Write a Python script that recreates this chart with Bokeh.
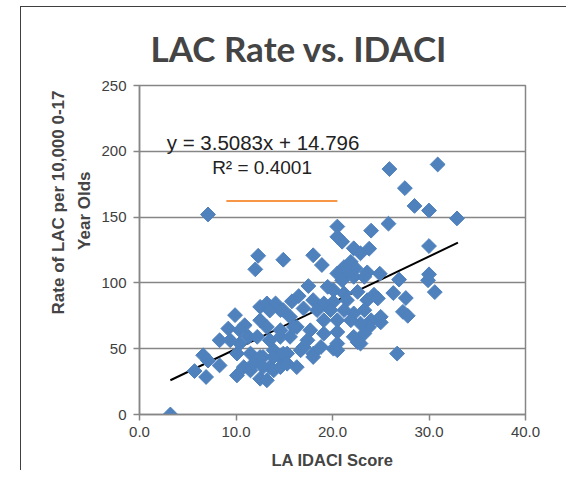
import math
from bokeh.plotting import figure
from bokeh.models import Range1d, FixedTicker, Label, Spacer, ColumnDataSource, Title
from bokeh.layouts import row, column
from bokeh.embed import file_html
from bokeh.resources import INLINE

# ---- data ----
idaci = [3.2, 7.1, 25.9, 30.9, 27.5, 28.5, 30.0, 32.9, 25.8, 24.0,
         30.0, 23.8, 20.5, 21.0, 30.0, 29.9, 30.6, 26.9, 26.3, 27.6,
         27.3, 27.8, 26.7, 24.9, 23.6, 24.3, 25.0, 24.0, 23.8, 22.6,
         22.2, 22.2, 22.9, 21.9, 22.4, 21.2, 22.2, 23.3, 20.1, 20.5,
         21.5, 21.0, 20.5, 18.0, 18.9, 17.5, 14.9, 12.3, 12.0, 20.1,
         21.2, 22.6, 18.0, 19.1, 20.1, 21.5, 23.6, 24.7, 17.0, 18.4,
         19.8, 21.2, 22.2, 23.3, 25.0, 22.9, 20.5, 21.9, 19.1, 15.6,
         14.9, 16.3, 17.7, 19.1, 20.5, 22.9, 17.4, 18.8, 20.5, 15.6,
         16.7, 18.0, 15.3, 14.6, 18.0, 16.3, 14.9, 13.5, 17.0, 13.9,
         12.8, 20.5, 5.7, 6.9, 6.6, 7.1, 8.3, 8.3, 9.9, 9.2,
         10.9, 11.3, 10.1, 10.1, 10.8, 11.5, 12.5, 13.2, 12.5, 13.2,
         14.1, 14.6, 12.5, 13.2, 12.2, 13.5, 14.6, 16.0, 11.5, 12.5,
         13.9, 14.9, 11.8, 12.8, 13.9, 14.6, 15.3, 10.4, 9.4, 10.4,
         13.5, 15.8, 16.5, 23.3, 19.5]
lac_rate = [0, 152, 186.5, 190, 172, 158.5, 155, 149, 145, 139.7,
            128, 126, 142.8, 131.3, 106.5, 102, 93, 102.5, 92.3, 88.5,
            78, 75, 46.3, 107, 108, 91, 70, 71.6, 66.5, 55,
            59, 126.3, 122.5, 116, 111, 112, 104.6, 104.6, 50, 107.2,
            107.2, 102, 135, 121, 113.6, 97.6, 117.6, 120.6, 110.3, 94.5,
            92, 93.2, 86.9, 84.4, 85.6, 86.9, 86.9, 88.2, 80.6, 79.3,
            79.3, 79.3, 76.8, 79.3, 74.2, 69.1, 71.6, 71.6, 71.6, 74.2,
            79.3, 66.5, 64, 61.5, 62.7, 53.9, 56.4, 51.3, 53.9, 59,
            48.8, 46.3, 46.3, 64, 43.7, 36, 41.2, 36, 51.3, 48.8,
            43.7, 48.8, 33, 28.5, 45, 41, 37.3, 56.4, 75.5, 65.3,
            67.8, 59, 46.3, 29.7, 36, 33.5, 27.2, 26, 81.8, 84.4,
            84.4, 79.3, 71.6, 66.5, 59, 56.4, 59, 66.5, 46.3, 43.7,
            43.7, 46.3, 38.6, 36, 33.5, 36, 38.6, 53.9, 56.4, 64,
            79, 86, 90, 61.5, 97]

slope = 3.5083
intercept = 14.796
trend_x = [3.2, 33.0]
trend_y = [slope * v + intercept for v in trend_x]

orange_x = [9.0, 20.5]
orange_y = [162.3, 162.3]

x_ticks = [0, 10, 20, 30, 40]
x_tick_labels = ["0.0", "10.0", "20.0", "30.0", "40.0"]
y_ticks = [0, 50, 100, 150, 200, 250]

title_text = "LAC Rate vs. IDACI"
x_title = "LA IDACI Score"
y_title_line1 = "Rate of LAC per 10,000 0-17"
y_title_line2 = "Year Olds"
eq_text = "y = 3.5083x + 14.796"
r2_text = "R\u00b2 = 0.4001"

GRID = "#868686"
BLUE = "#4F81BD"

p = figure(frame_width=385, frame_height=328,
           min_border_left=118, min_border_right=42,
           min_border_top=78, min_border_bottom=57,
           x_range=Range1d(0, 40), y_range=Range1d(0, 250),
           output_backend="svg", toolbar_location=None)

p.title.text = title_text
p.title.text_font = "Lato"
p.title.text_font_style = "bold"
p.title.text_font_size = "35px"
p.title.align = "left"
p.title.offset = 11
p.title.standoff = 34

p.outline_line_color = GRID
p.outline_line_width = 1.5
p.xgrid.visible = False
p.ygrid.grid_line_color = GRID
p.ygrid.grid_line_width = 1.5
p.ygrid.ticker = FixedTicker(ticks=y_ticks)

for ax in (p.xaxis[0], p.yaxis[0]):
    ax.axis_line_color = GRID
    ax.axis_line_width = 1.5
    ax.major_tick_line_color = GRID
    ax.major_tick_line_width = 1.5
    ax.major_tick_out = 6
    ax.major_tick_in = 0
    ax.minor_tick_line_color = None
    ax.major_label_text_font = "Liberation Sans"
    ax.major_label_text_font_size = "15px"
    ax.major_label_text_color = "#404040"

p.xaxis.ticker = FixedTicker(ticks=x_ticks)
p.xaxis.major_label_overrides = {t: l for t, l in zip(x_ticks, x_tick_labels)}
p.xaxis.major_label_standoff = 6
p.xaxis.axis_label = x_title
p.xaxis.axis_label_text_font = "Liberation Sans"
p.xaxis.axis_label_text_font_style = "bold"
p.xaxis.axis_label_text_font_size = "16.5px"
p.xaxis.axis_label_standoff = 11

p.yaxis.ticker = FixedTicker(ticks=y_ticks)
p.yaxis.major_label_standoff = 7

ylab_kw = dict(text_font="Liberation Sans", text_font_style="bold",
               text_font_size="17px", align="right")
t_line2 = Title(text=y_title_line2, offset=86, standoff=10, **ylab_kw)
t_line1 = Title(text=y_title_line1, offset=5, standoff=0, **ylab_kw)
p.add_layout(t_line2, "left")
p.add_layout(t_line1, "left")

src = ColumnDataSource(dict(x=idaci, y=lac_rate))
p.line(trend_x, trend_y, line_color="black", line_width=2)
p.scatter("x", "y", source=src, marker="square", angle=math.pi / 4, size=10.5,
          fill_color=BLUE, line_color=BLUE)
p.line(orange_x, orange_y, line_color="#F79646", line_width=2)

p.add_layout(Label(x=12.8, y=206.5, text=eq_text, text_align="center",
                   text_baseline="middle", text_font="Liberation Sans",
                   text_font_size="20.5px", text_color="#222222"))
p.add_layout(Label(x=12.7, y=187.5, text=r2_text, text_align="center",
                   text_baseline="middle", text_font="Liberation Sans",
                   text_font_size="19px", text_color="#222222"))

p.styles = {"border-top": "1.5px solid #404040", "border-left": "1.5px solid #404040"}

layout = column(Spacer(width=10, height=6), row(Spacer(width=20, height=10), p))
open("out.html", "w").write(file_html(layout, INLINE))
